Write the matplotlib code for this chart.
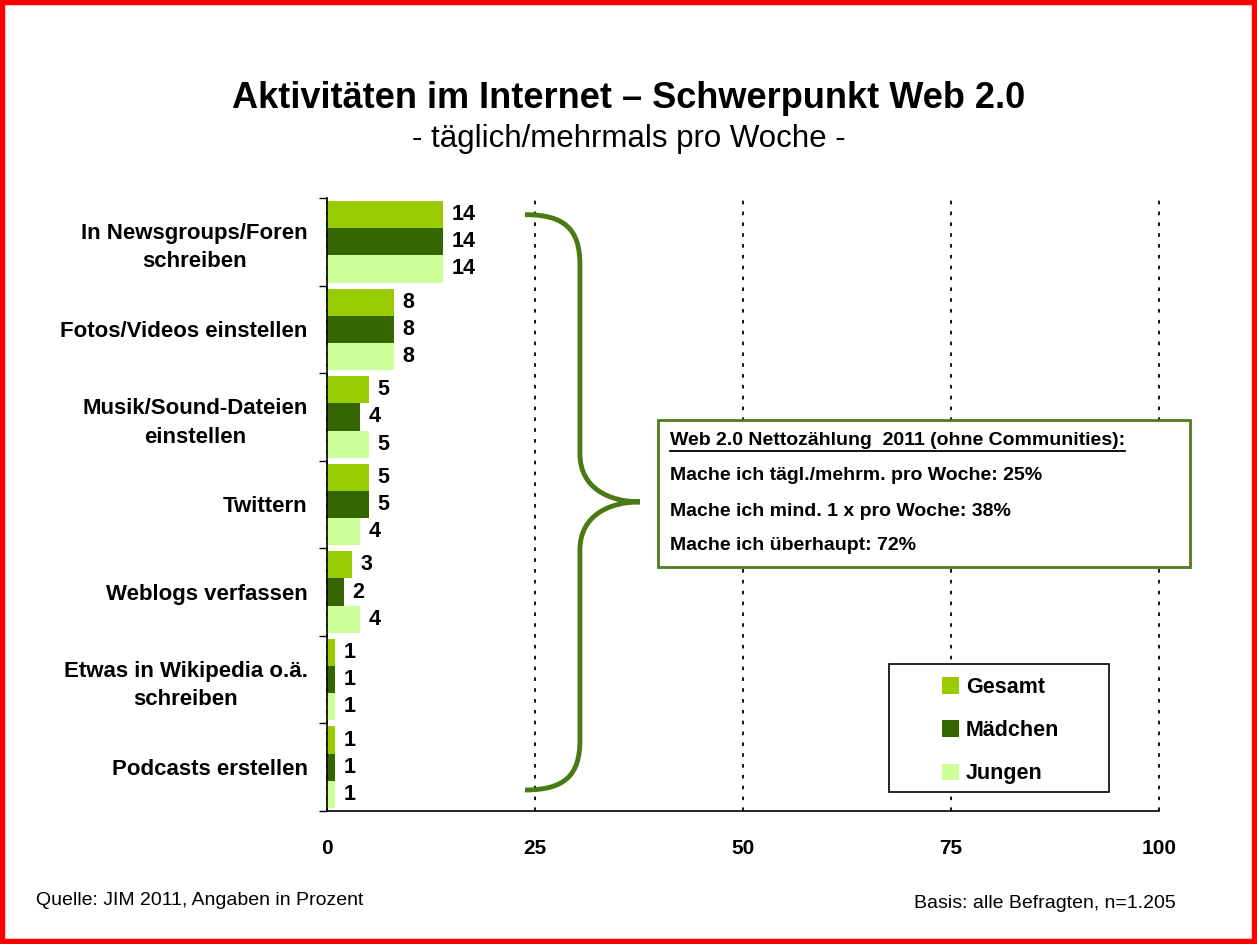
import matplotlib
matplotlib.use("Agg")
import matplotlib.pyplot as plt
import numpy as np
from matplotlib.patches import Rectangle, PathPatch, Patch
from matplotlib.path import Path
from matplotlib.lines import Line2D

# Data
categories = ["In Newsgroups/Foren\nschreiben", "Fotos/Videos einstellen",
              "Musik/Sound-Dateien\neinstellen", "Twittern", "Weblogs verfassen",
              "Etwas in Wikipedia o.ä.\nschreiben", "Podcasts erstellen"]
gesamt = [14, 8, 5, 5, 3, 1, 1]
maedchen = [14, 8, 4, 5, 2, 1, 1]
jungen = [14, 8, 5, 4, 4, 1, 1]
series_names = ["Gesamt", "Mädchen", "Jungen"]
series_colors = ["#99CC00", "#336600", "#CCFF99"]
x_ticks = [0, 25, 50, 75, 100]

box_lines = ["Web 2.0 Nettozählung  2011 (ohne Communities):",
             "Mache ich tägl./mehrm. pro Woche: 25%",
             "Mache ich mind. 1 x pro Woche: 38%",
             "Mache ich überhaupt: 72%"]

plt.rcParams["font.family"] = ["Liberation Sans", "DejaVu Sans"]

W, H = 1257, 944
fig = plt.figure(figsize=(W / 100, H / 100), dpi=100)
fig.patch.set_facecolor("white")

ax = fig.add_axes([327 / W, 1 - 811 / H, (1159 - 327) / W, (811 - 198) / H])

y = np.arange(len(categories))
bh = 0.31
offsets = [-bh, 0, bh]
for vals, name, col, off in zip([gesamt, maedchen, jungen], series_names, series_colors, offsets):
    bars = ax.barh(y + off, vals, height=bh, color=col, label=name)
    for b, v in zip(bars, vals):
        ax.annotate(str(v), (b.get_width(), b.get_y() + b.get_height() / 2),
                    xytext=(6, 0), textcoords="offset points", va="center", ha="left",
                    fontsize=15.5, fontweight="bold", annotation_clip=False)

ax.set_xlim(0, 100)
ax.set_ylim(len(categories) - 0.5, -0.5)
ax.set_yticks(y)
ax.set_yticklabels(categories, fontsize=16, fontweight="bold", ha="right",
                   multialignment="center", linespacing=1.45)
ax.set_yticks(np.arange(len(categories) + 1) - 0.5, minor=True)
ax.tick_params(axis="y", which="major", length=0, pad=14)
ax.tick_params(axis="y", which="minor", length=6, width=1, direction="out")
ax.set_xticks(x_ticks)
ax.set_xticklabels([str(t) for t in x_ticks], fontsize=15, fontweight="bold")
ax.tick_params(axis="x", length=0, pad=20)

ax.grid(axis="x", linestyle=(0, (2, 4)), color="black", linewidth=1.3)
for gl in ax.get_xgridlines():
    gl.set_clip_on(False)
ax.set_axisbelow(True)
for s in ["top", "right"]:
    ax.spines[s].set_visible(False)
ax.spines["left"].set_linewidth(1.2)
ax.spines["bottom"].set_linewidth(1.2)

# Curly brace grouping all activities
bx0, bxm, bxt = 23.8, 30.4, 37.6
by0, byt, by1 = -0.31, 2.97, 6.26
brace_verts = [(bx0, by0), (bx0 + 4.8, by0), (bxm, by0 + 0.17), (bxm, by0 + 0.57),
               (bxm, byt - 0.55),
               (bxm, byt - 0.15), (bxm + 3.6, byt), (bxt, byt),
               (bxm + 3.6, byt), (bxm, byt + 0.15), (bxm, byt + 0.55),
               (bxm, by1 - 0.57),
               (bxm, by1 - 0.17), (bx0 + 4.8, by1), (bx0, by1)]
brace_codes = [Path.MOVETO, Path.CURVE4, Path.CURVE4, Path.CURVE4,
               Path.LINETO,
               Path.CURVE4, Path.CURVE4, Path.CURVE4,
               Path.CURVE4, Path.CURVE4, Path.CURVE4,
               Path.LINETO,
               Path.CURVE4, Path.CURVE4, Path.CURVE4]
ax.add_patch(PathPatch(Path(brace_verts, brace_codes), facecolor="none",
                       edgecolor="#4A7A12", linewidth=3.5, clip_on=False, zorder=3))

# Summary box
fig.add_artist(Rectangle((658 / W, 1 - 567 / H), 532 / W, 147 / H, transform=fig.transFigure,
                         facecolor="white", edgecolor="#4F7A1E", linewidth=2, zorder=4))
line_y = [441, 476, 512, 546]
texts = []
for t, yy in zip(box_lines, line_y):
    texts.append(fig.text(670 / W, 1 - yy / H, t, fontsize=14, fontweight="bold",
                          va="center", ha="left", zorder=5))

# Legend with its own frame
fig.add_artist(Rectangle((889 / W, 1 - 792 / H), 220 / W, 128 / H, transform=fig.transFigure,
                         facecolor="white", edgecolor="black", linewidth=1.2, zorder=4))
handles = [Patch(facecolor=c, edgecolor="none") for c in series_colors]
leg = fig.legend(handles, series_names, loc="upper left", bbox_to_anchor=(942 / W, 1 - 677 / H),
                 frameon=False, borderpad=0, borderaxespad=0, handlelength=0.8, handleheight=0.8,
                 labelspacing=1.03, handletextpad=0.3, prop={"weight": "bold", "size": 15.5})
leg.set_zorder(6)

# Titles and footnotes
fig.text(0.5, 1 - 108 / H, "Aktivitäten im Internet – Schwerpunkt Web 2.0", ha="center",
         va="baseline", fontsize=26, fontweight="bold")
fig.text(0.5, 1 - 147 / H, "- täglich/mehrmals pro Woche -", ha="center", va="baseline",
         fontsize=22.5)
fig.text(36 / W, 1 - 905 / H, "Quelle: JIM 2011, Angaben in Prozent", ha="left", va="baseline",
         fontsize=14)
fig.text(1176 / W, 1 - 908 / H, "Basis: alle Befragten, n=1.205", ha="right", va="baseline",
         fontsize=14)

# Red frame around the whole figure
fig.add_artist(Rectangle((0, 0), 1, 1, transform=fig.transFigure, fill=False,
                         edgecolor="#FF0000", linewidth=7.5, zorder=10))

# Underline the box heading
fig.canvas.draw()
bb = texts[0].get_window_extent()
fig.add_artist(Line2D([bb.x0 / W, bb.x1 / W], [(bb.y0 - 1) / H, (bb.y0 - 1) / H],
                      transform=fig.transFigure, color="black", linewidth=1.3, zorder=5))

fig.savefig("out.png", dpi=100)
